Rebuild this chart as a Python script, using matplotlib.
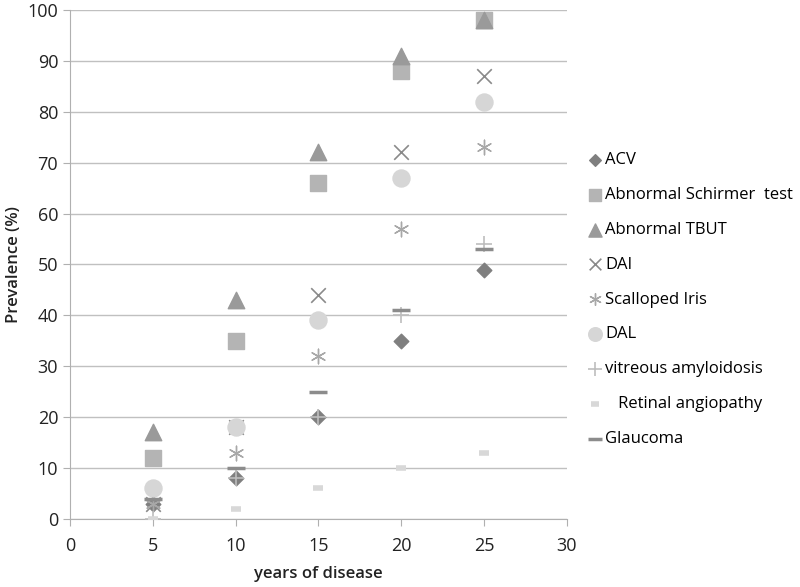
import matplotlib
matplotlib.use("Agg")
import matplotlib.pyplot as plt

plt.rcParams['font.family'] = ['Open Sans', 'DejaVu Sans']

years = [5, 10, 15, 20, 25]

acv = [3, 8, 20, 35, 49]
schirmer = [12, 35, 66, 88, 98]
tbut = [17, 43, 72, 91, 98]
dai = [3, 18, 44, 72, 87]
scalloped = [3, 13, 32, 57, 73]
dal = [6, 18, 39, 67, 82]
vitreous = [0, 8, 20, 40, 54]
retinal = [0, 2, 6, 10, 13]
glaucoma = [4, 10, 25, 41, 53]

labels = ['ACV', 'Abnormal Schirmer  test', 'Abnormal TBUT', 'DAI',
          'Scalloped Iris', 'DAL', 'vitreous amyloidosis',
          '   Retinal angiopathy', 'Glaucoma']

fig = plt.figure(figsize=(8, 5.87), dpi=100)
ax = fig.add_axes([0.0875, 0.116, 0.621, 0.867])

ax.scatter(years, acv, marker='D', s=55, c='#7f7f7f', label=labels[0], zorder=3)
ax.scatter(years, schirmer, marker='s', s=130, c='#b4b4b4', label=labels[1], zorder=3)
ax.scatter(years, tbut, marker='^', s=140, c='#9a9a9a', label=labels[2], zorder=3)
ax.scatter(years, dai, marker='x', s=110, c='#8a8a8a', linewidths=1.2, label=labels[3], zorder=3)
ax.scatter(years, scalloped, marker=(6, 2, 0), s=110, c='#a8a8a8', linewidths=1.0, label=labels[4], zorder=3)
ax.scatter(years, dal, marker='o', s=150, c='#d6d6d6', label=labels[5], zorder=3)
ax.scatter(years, vitreous, marker='+', s=140, c='#bdbdbd', linewidths=1.2, label=labels[6], zorder=3)
ax.scatter(years, retinal, marker='_', s=60, c='#d8d8d8', linewidths=4, label=labels[7], zorder=3)
ax.scatter(years, glaucoma, marker='_', s=150, c='#8c8c8c', linewidths=2.5, label=labels[8], zorder=3)

ax.set_xlim(0, 30)
ax.set_ylim(0, 100)
ax.set_xticks(range(0, 31, 5))
ax.set_yticks(range(0, 101, 10))
ax.yaxis.grid(True, color='#c0c0c0', linewidth=1)
ax.set_axisbelow(True)
for s in ['top', 'right']:
    ax.spines[s].set_visible(False)
for s in ['left', 'bottom']:
    ax.spines[s].set_color('#b0b0b0')
ax.tick_params(colors='#b0b0b0', labelcolor='#222222', labelsize=13, length=5)
ax.tick_params(axis='x', pad=8)
ax.set_xlabel('years of disease', fontsize=12, fontweight='semibold', color='#222222', labelpad=8)
ax.set_ylabel('Prevalence (%)', fontsize=12, fontweight='semibold', color='#222222', labelpad=4)

ax.legend(loc='upper left', bbox_to_anchor=(1.01, 0.75), frameon=False,
          fontsize=12, handletextpad=0.1, handlelength=1.0, labelspacing=1.13,
          scatterpoints=1, markerscale=0.8)

fig.savefig('out.png', dpi=100)
